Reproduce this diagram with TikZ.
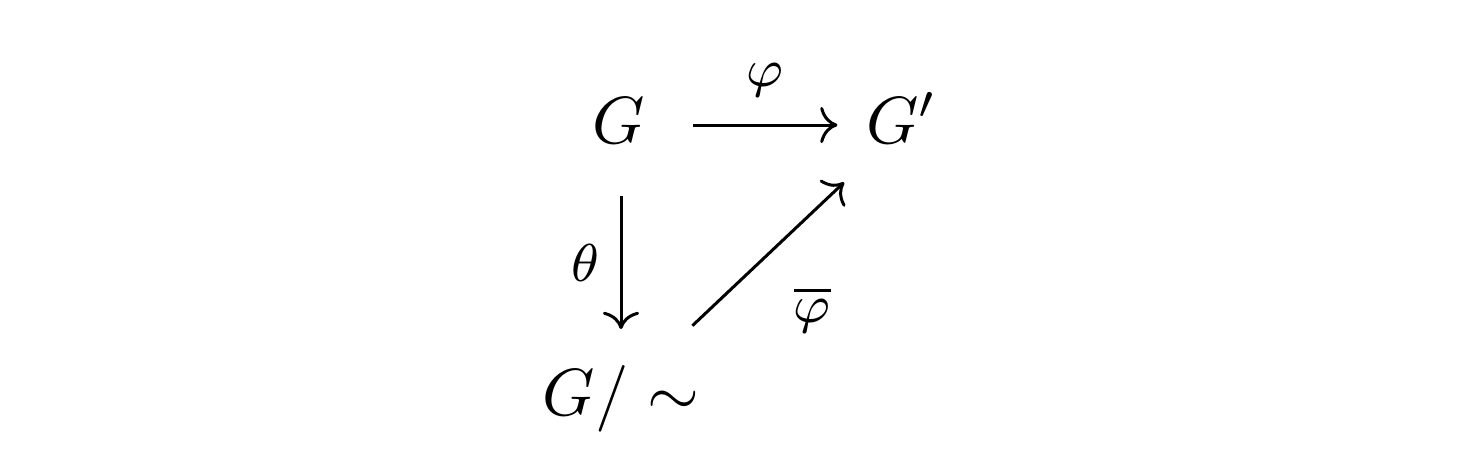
\documentclass[tikz,border=0pt]{standalone}
\usepackage{tikz}
\usetikzlibrary{positioning,arrows.meta}
\begin{document}
\begin{tikzpicture}[
			x=0.15pt, y=-0.15pt,
			obj/.style={inner sep=0pt},
			lbl/.style={inner sep=0pt, font=\footnotesize},
			arr/.style={-{Computer Modern Rightarrow}, line width=0.45pt}
			]
			\useasboundingbox (0,0) rectangle (1461,449);
			
			% Objects of the triangle
			\node[obj, anchor=base] (G) at (619,143) {$G$};
			\node[obj, anchor=base] (Gp) at (902,143) {$G'$};
			\node[obj, anchor=base] (Gq) at (621,415) {$G/\sim$};
			
			% Top arrow (on the math axis)
			\draw[arr] ([xshift=7pt,yshift=2.7pt]G.base east) -- ([xshift=-4.15pt,yshift=2.7pt]Gp.base west)
				node[lbl, midway, above=4pt] (phi) {$\varphi$};
			
			% Quotient map
			\draw[arr] ([yshift=-7.8pt]G.south -| Gq.north) -- ([yshift=5.2pt]Gq.north)
				node[lbl, midway, left=3pt] (theta) {$\theta$};
			
			% Induced map
			\draw[arr] ([xshift=-1.2pt,yshift=5.7pt]Gq.north east) -- ([xshift=-3.15pt,yshift=-5.7pt]Gp.south west)
				node[lbl, midway, below right=4.6pt and 3.6pt] (phibar) {$\overline{\varphi}$};
			
		\end{tikzpicture}
\end{document}
